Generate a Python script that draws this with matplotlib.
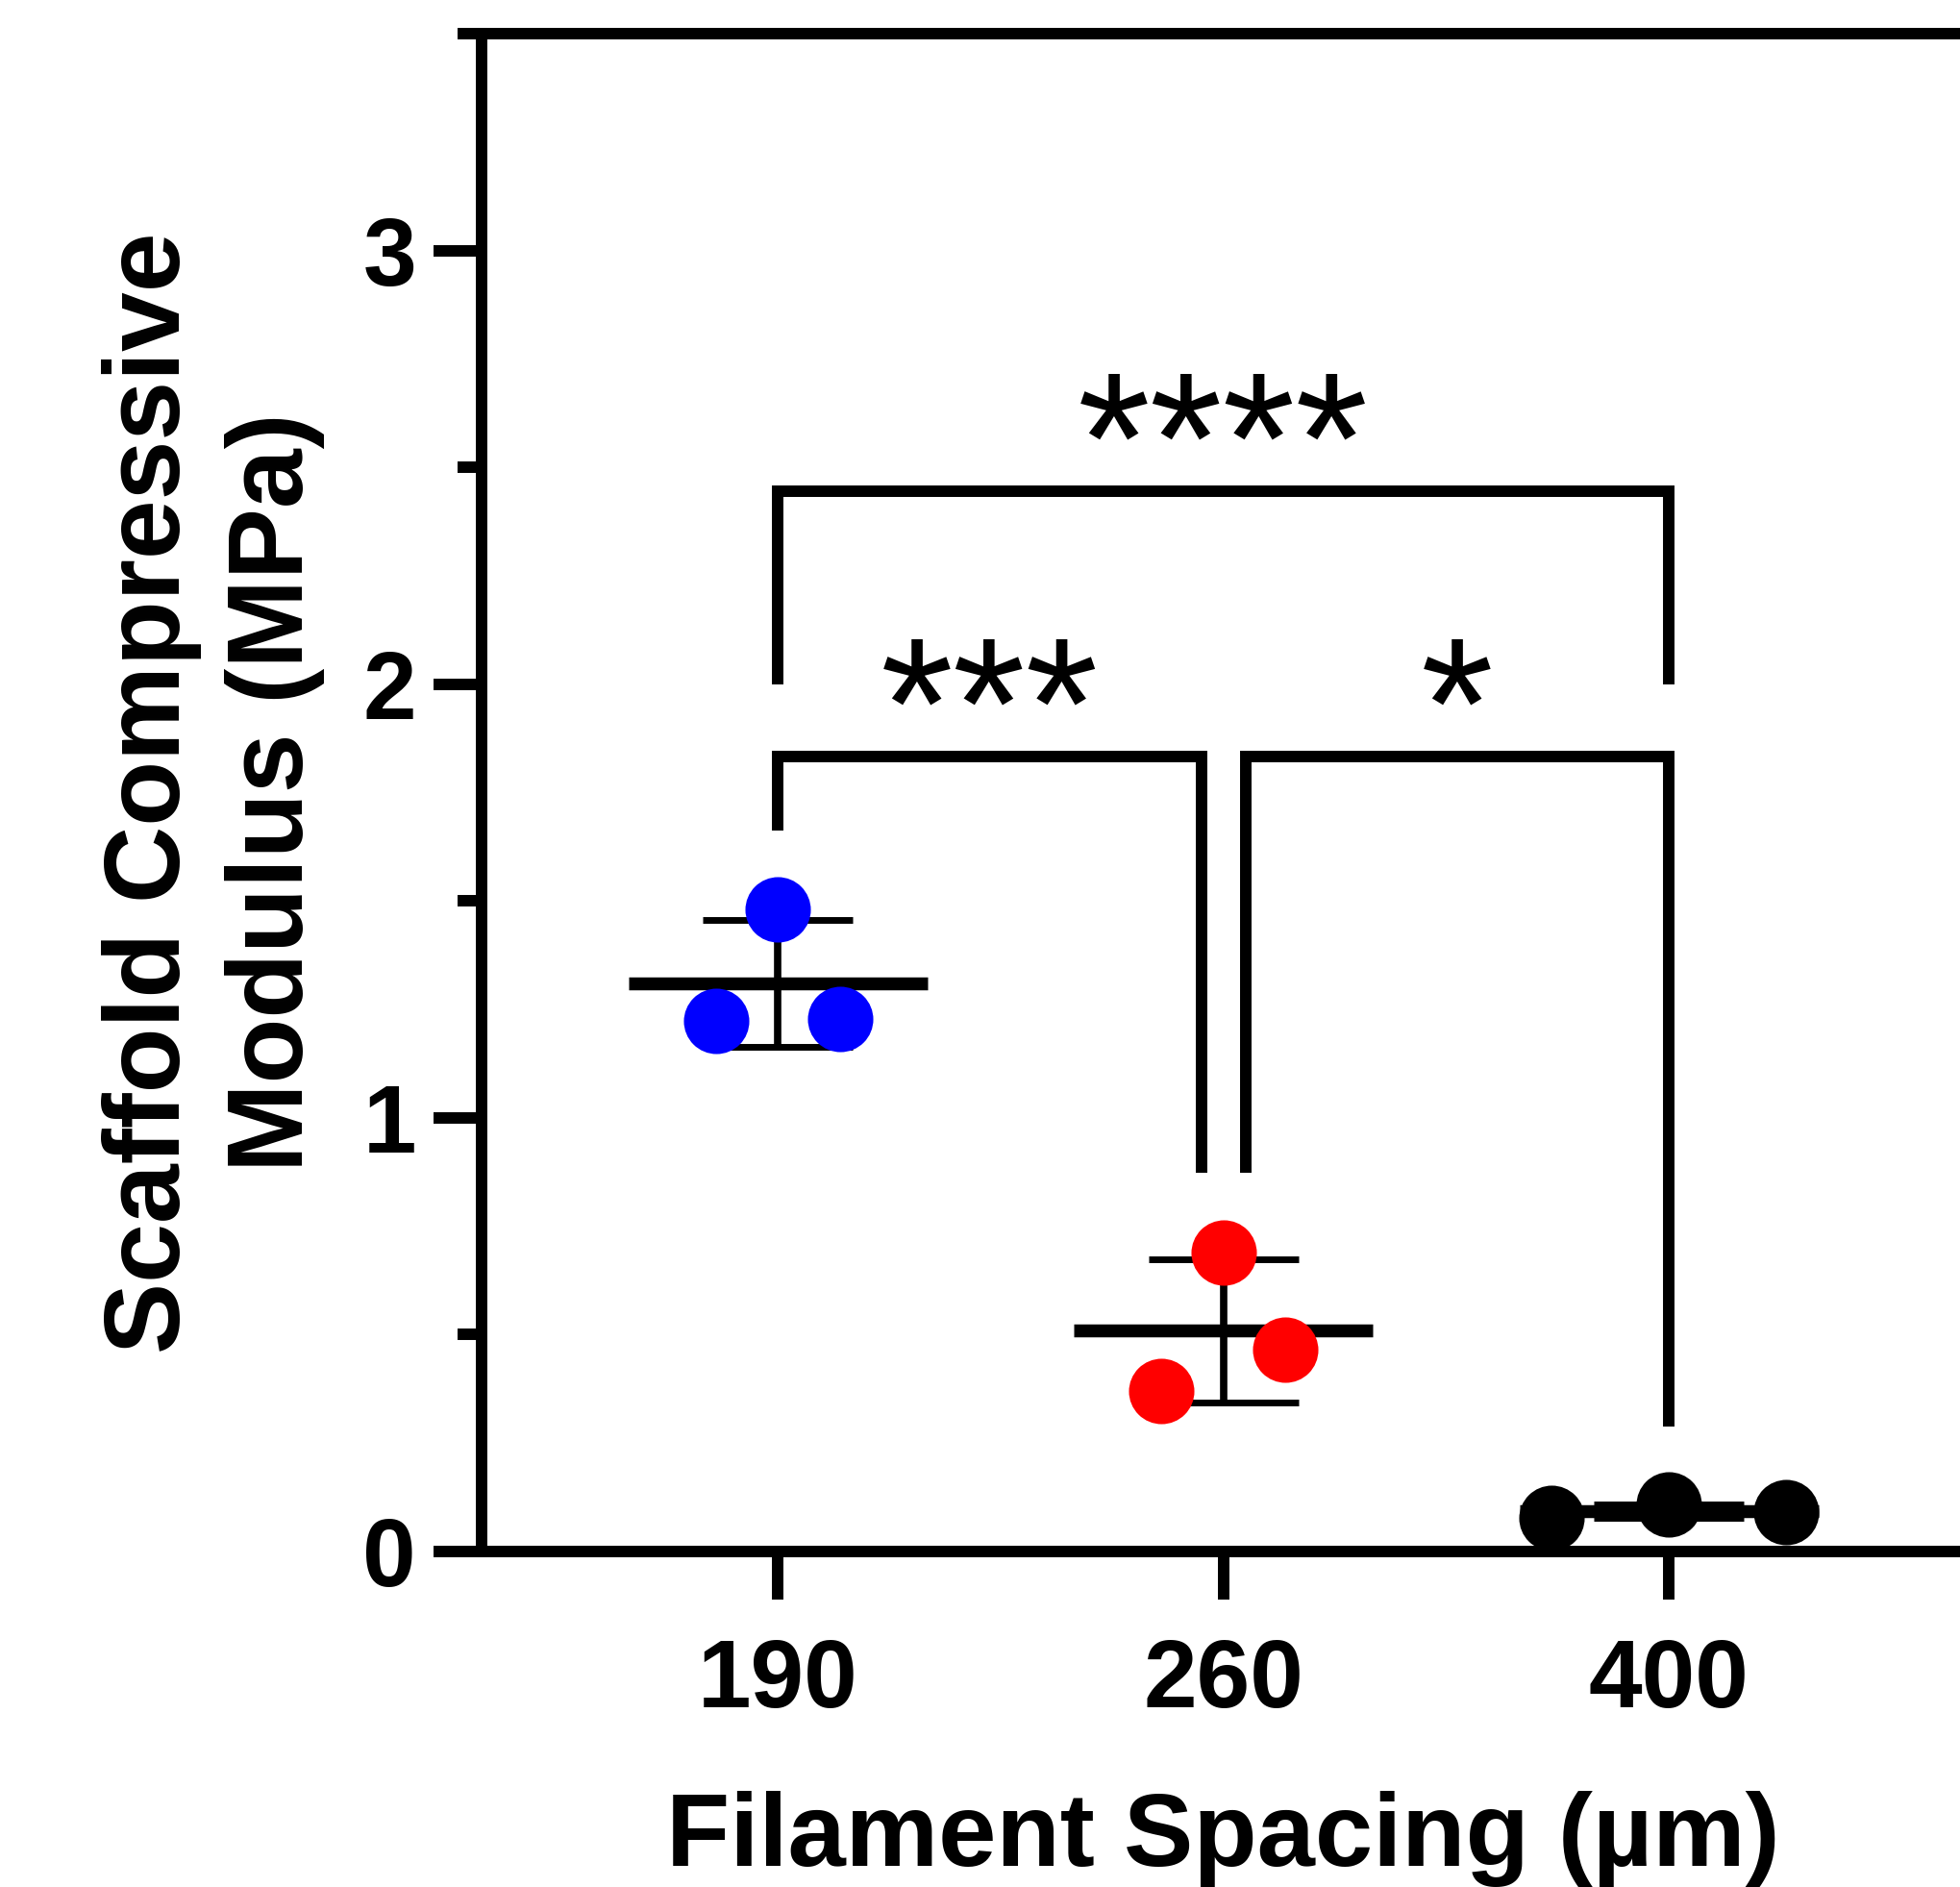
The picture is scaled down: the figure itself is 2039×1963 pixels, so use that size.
import matplotlib
matplotlib.use("Agg")
import matplotlib.pyplot as plt
import numpy as np

plt.rcParams['font.family'] = ['Liberation Sans', 'DejaVu Sans']

# data
groups = ['190', '260', '400']
colors = ['#0000FF', '#FF0000', '#000000']
values = [
    [1.224, 1.480, 1.228],
    [0.370, 0.690, 0.466],
    [0.078, 0.109, 0.091],
]
# horizontal scatter of the points inside each column
spread = [0.139, 0.139, 0.263]

# significance brackets: x1, x2, bar height, leg end left, leg end right, label
brackets = [
    (0.0, 2.0, 2.444, 2.00, 2.00, '****'),
    (0.0, 0.95, 1.833, 1.663, 0.873, '***'),
    (1.05, 2.0, 1.833, 0.873, 0.288, '*'),
]

LW = 8.6

fig = plt.figure(figsize=(20.4, 19.63), dpi=100)
ax = fig.add_axes([0.2456, 0.1778, 0.8327, 0.8044])

for i, (vals, c) in enumerate(zip(values, colors)):
    vals = np.array(vals)
    m = vals.mean()
    sd = vals.std(ddof=1)
    # mean line
    ax.plot([i - 0.335, i + 0.335], [m, m], color='k', lw=9.7,
            solid_capstyle='butt', zorder=3)
    # SD error bar
    ax.errorbar(i, m, yerr=sd, fmt='none', ecolor='k', elinewidth=5.5,
                capsize=56, capthick=5, zorder=3)
    xs = i + np.array([-1, 0, 1]) * spread[i]
    ax.plot(xs, vals, 'o', color=c, markersize=49, markeredgewidth=0,
            zorder=5, clip_on=False)

for x1, x2, y, e1, e2, lab in brackets:
    ax.plot([x1, x1, x2, x2], [e1, y, y, e2], color='k', lw=LW,
            solid_joinstyle='miter', solid_capstyle='butt', zorder=2)
    ax.text((x1 + x2) / 2, y + 0.087, lab, ha='center', va='center',
            fontsize=140)

ax.set_xlim(-0.665, 3.0)
ax.set_ylim(0, 3.5)
ax.set_xticks(range(len(groups)))
ax.set_xticklabels(groups)
ax.set_yticks([0, 1, 2, 3])
ax.set_yticks([0.5, 1.5, 2.5, 3.5], minor=True)

for s in ax.spines.values():
    s.set_linewidth(LW)
ax.tick_params(axis='both', which='major', length=36, width=LW,
               labelsize=72)
ax.tick_params(axis='y', which='major', pad=13)
ax.tick_params(axis='x', which='major', pad=28)
ax.tick_params(axis='y', which='minor', length=18, width=LW)
for lab in ax.get_xticklabels() + ax.get_yticklabels():
    lab.set_fontweight('bold')

ax.set_xlabel('Filament Spacing (µm)', fontsize=78, fontweight='bold')
ax.xaxis.set_label_coords((1 + 0.665) / 3.665, -0.158)
ax.set_ylabel('Scaffold Compressive\nModulus (MPa)', fontsize=80,
              fontweight='bold', linespacing=1.3)
ax.yaxis.set_label_coords(-0.096, 0.5)

fig.savefig('out.png', dpi=100)
